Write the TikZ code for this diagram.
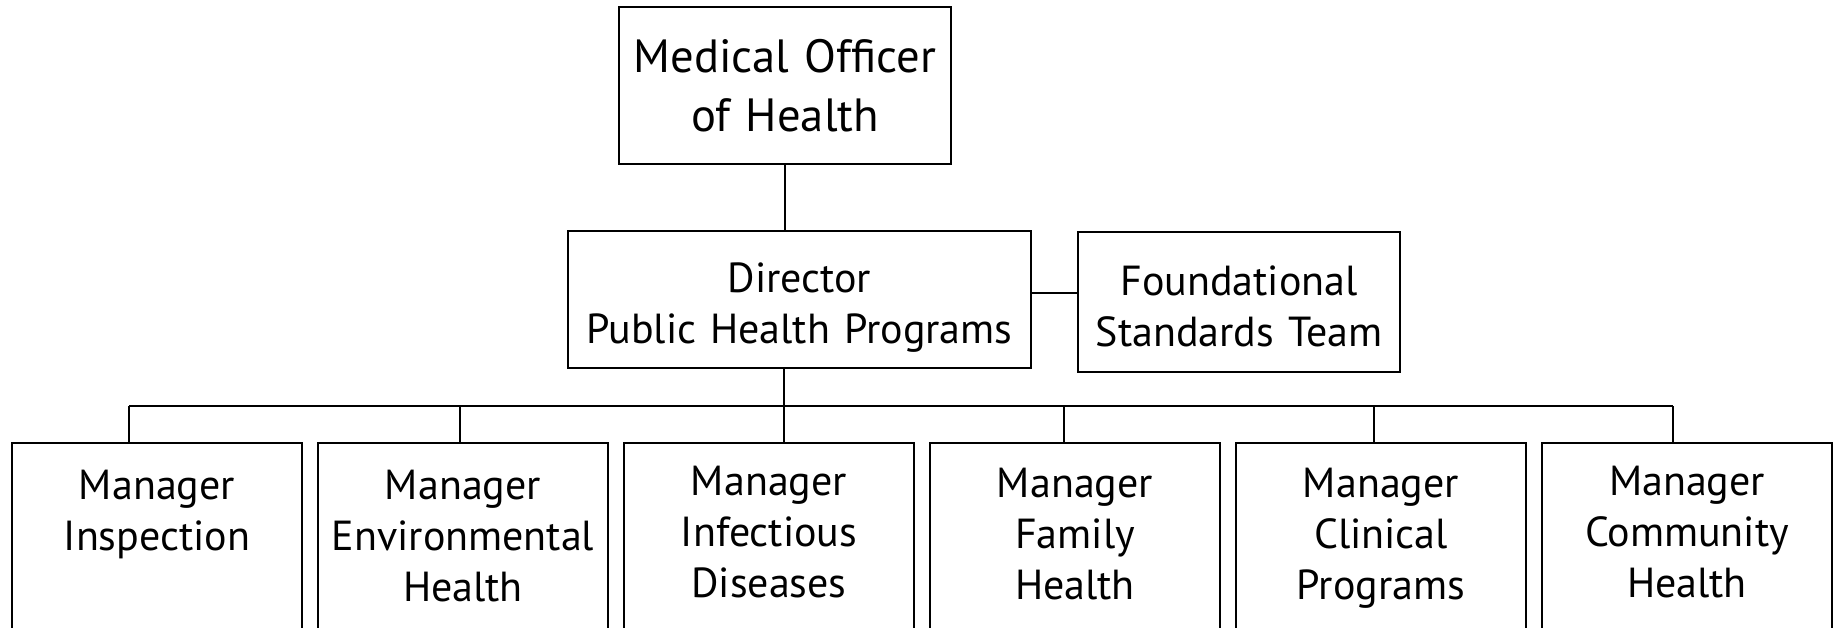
\documentclass[tikz,border=0pt]{standalone}
\usepackage{fontspec}
\setmainfont{PT Sans}
\usetikzlibrary{positioning}

\begin{document}
\begin{tikzpicture}[x=0.5pt,y=-0.5pt,
    font=\fontsize{21}{25.5}\selectfont,
    office/.style={draw, line width=1.4pt, align=center, inner sep=0pt, outer sep=0pt, text height=20pt},
    manager/.style={draw, line width=1.4pt, align=center, text width=135pt,
      inner xsep=5pt, inner ysep=6pt, outer sep=0pt, text height=20pt+#1, text depth=150pt-#1},
    manager/.default=0pt,
    link/.style={line width=0.9pt}]
  \useasboundingbox (0,0) rectangle (1837,627);
  \clip (0,0) rectangle (1837,627);

  \node[office, font=\fontsize{23.3}{29.5}\selectfont, text width=166pt, minimum height=78.5pt,
    text height=22pt, text depth=35pt] (moh) at (785,85.5) {Medical Officer\\of Health};
  \node[office, text width=231.5pt, minimum height=68.5pt, text depth=27.2pt] (dir) at (799.5,299.5) {Director\\Public Health Programs};
  \node[office, text width=161pt, minimum height=70pt, text depth=27pt] (fst) at (1239,302) {Foundational\\Standards Team};

  \node[manager=2pt, anchor=north west] (ins) at (12,443) {Manager\\Inspection};
  \node[manager=2pt, right=8pt of ins] (env) {Manager\\Environmental\\Health};
  \node[manager, right=8pt of env] (inf) {Manager\\Infectious\\Diseases};
  \node[manager=1pt, right=8pt of inf] (fam) {Manager\\Family\\Health};
  \node[manager=1pt, right=8pt of fam] (cli) {Manager\\Clinical\\Programs};
  \node[manager, right=8pt of cli] (com) {Manager\\Community\\Health};

  \coordinate (d1) at (129,406);
  \coordinate (d2) at (460,406);
  \coordinate (d3) at (784,406);
  \coordinate (d4) at (1064,406);
  \coordinate (d5) at (1374,406);
  \coordinate (d6) at (1673,406);

  \draw[link] (moh.south) -- (moh.south |- dir.north);
  \draw[link] ([yshift=3.25pt]dir.east) -- ([yshift=3.25pt]dir.east -| fst.west);
  \draw[link] (dir.south -| d3) -- (d3);
  \draw[link] (d1) -- (d6);
  \foreach \m [count=\i] in {ins,env,inf,fam,cli,com}
    \draw[link] (d\i) -- (d\i |- \m.north);
\end{tikzpicture}
\end{document}
